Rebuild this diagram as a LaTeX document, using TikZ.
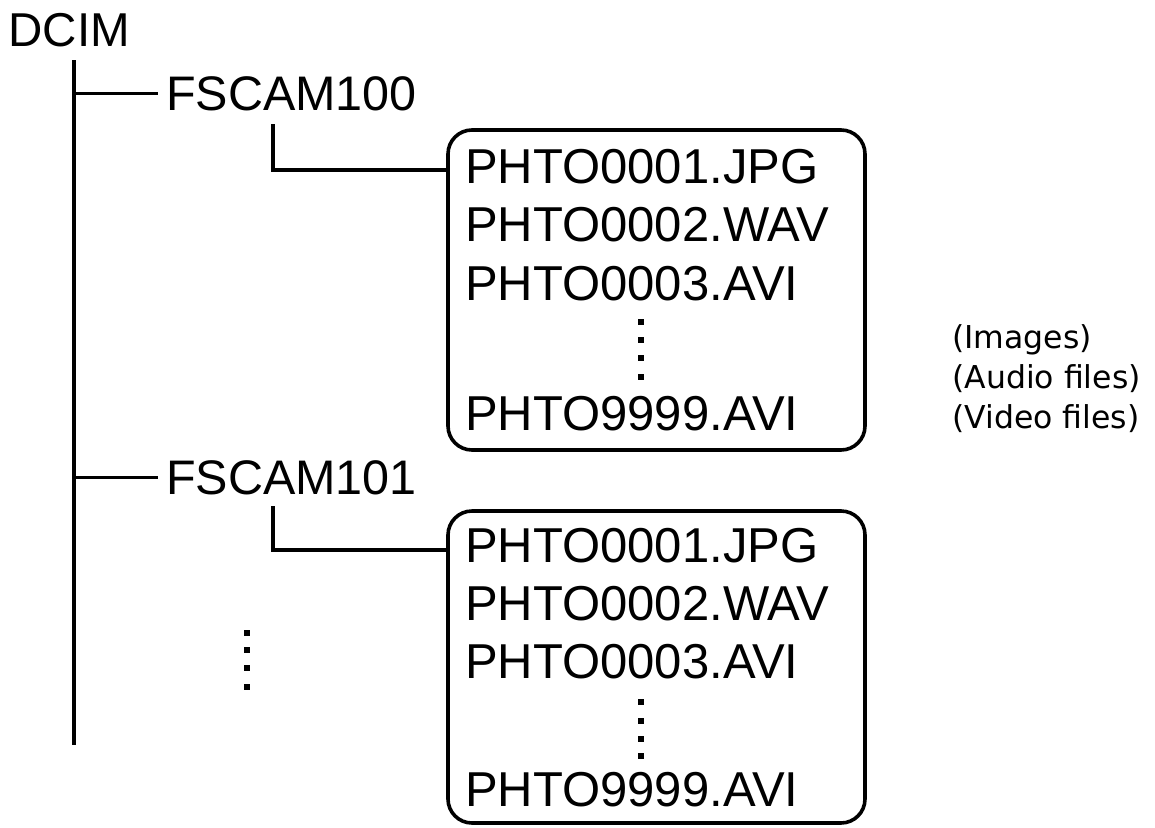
\documentclass[tikz,border=0pt]{standalone}
\usepackage{fontspec}
\setmainfont{Liberation Sans}
\newfontfamily\notefont{DejaVu Sans}
\begin{document}
\begin{tikzpicture}[x=1pt,y=-1pt,
  treeline/.style={line width=3.2pt, line cap=butt, line join=miter},
  big/.style={font=\fontsize{48.5}{52}\selectfont, inner sep=0pt, anchor=base west},
  file/.style={font=\fontsize{49}{52}\selectfont, inner sep=0pt, anchor=base west},
  note/.style={font=\notefont\fontsize{31.5}{36}\selectfont, inner sep=0pt, anchor=base west},
  folderbox/.style={draw, line width=3.6pt, rounded corners=24pt, minimum width=417pt, inner sep=0pt},
  dotsq/.style={fill, minimum size=6.8pt, inner sep=0pt}]
\useasboundingbox (0,0) rectangle (1155,827);
% root
\node[big, font=\fontsize{47.5}{50}\selectfont] (dcim) at (8.5,46) {DCIM};
\coordinate (trunktop) at (74,60);
\coordinate (trunkend) at (74,745);
\draw[treeline] (trunktop) -- (trunkend);
% folders
\node[big] (f100) at (166,110) {FSCAM100};
\node[big] (f101) at (166,494) {FSCAM101};
\draw[treeline] (trunktop |- f100.west) -- ([xshift=-8pt]f100.west);
\draw[treeline] (trunktop |- f101.west) -- ([xshift=-8pt]f101.west);
% boxes
\node[folderbox, minimum height=320pt] (box1) at (656.5,290) {};
\node[folderbox, minimum height=312pt] (box2) at (656.5,667) {};
\coordinate (s1) at (273,124);
\coordinate (s2) at (273,506);
\draw[treeline] (s1) |- ([yshift=120pt]box1.west);
\draw[treeline] (s2) |- ([yshift=117pt]box2.west);
% box 1 files
\node[file] (a1) at (465,183) {PHTO0001.JPG};
\node[file] (a2) at (465,241) {PHTO0002.WAV};
\node[file] (a3) at (465,300) {PHTO0003.AVI};
\node[file] (a4) at (465,430) {PHTO9999.AVI};
\foreach \y [count=\i] in {322,340,358,377} \node[dotsq] (ad\i) at (641,\y) {};
% box 2 files
\node[file] (b1) at (465,562) {PHTO0001.JPG};
\node[file] (b2) at (465,620) {PHTO0002.WAV};
\node[file] (b3) at (465,678) {PHTO0003.AVI};
\node[file] (b4) at (465,806) {PHTO9999.AVI};
\foreach \y [count=\i] in {702,721,739,756} \node[dotsq] (bd\i) at (641,\y) {};
% left dots
\foreach \y [count=\i] in {633,650,668,687} \node[dotsq] (ld\i) at (247,\y) {};
% notes
\node[note] (n1) at (952,348) {(Images)};
\node[note] (n2) at (952,388) {(Audio files)};
\node[note] (n3) at (952,428) {(Video files)};
\end{tikzpicture}
\end{document}
